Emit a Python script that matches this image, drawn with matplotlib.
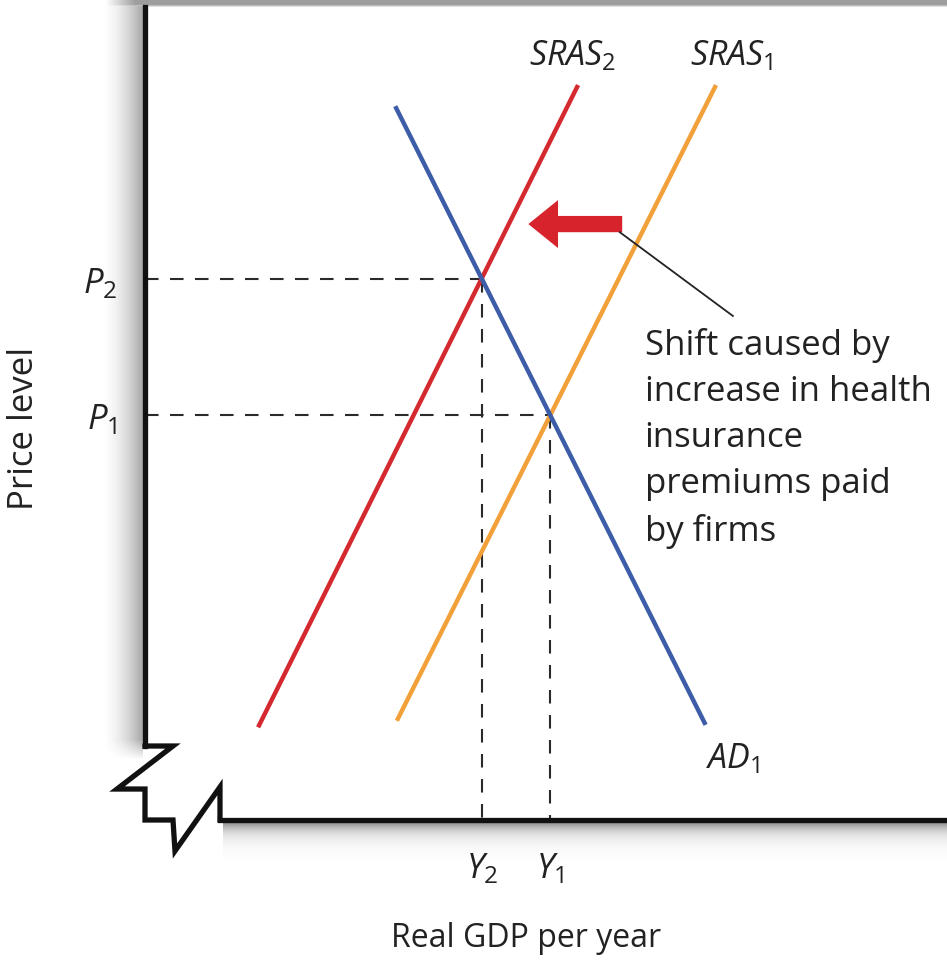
import numpy as np
import matplotlib.pyplot as plt
from matplotlib.patches import FancyArrow

plt.rcParams['font.family'] = ['Open Sans', 'DejaVu Sans']
plt.rcParams['mathtext.fontset'] = 'custom'
plt.rcParams['mathtext.it'] = 'Open Sans:italic'
plt.rcParams['mathtext.rm'] = 'Open Sans'

# curve end points: (real GDP, price level), arbitrary units 0-100
sras1_x = [31.4, 71.2]
sras1_y = [12.2, 90.4]
sras2_x = [14.1, 54.0]
sras2_y = [11.4, 90.4]
ad1_x = [31.2, 69.9]
ad1_y = [87.8, 11.7]

curve_names = [r'$\mathit{SRAS}_\mathrm{2}$', r'$\mathit{SRAS}_\mathrm{1}$', r'$\mathit{AD}_\mathrm{1}$']
name_x = [47.9, 68.0, 70.0]
name_y = [93.0, 93.0, 6.5]

price_ticks = [r'$\mathit{P}_\mathrm{1}$', r'$\mathit{P}_\mathrm{2}$']
gdp_ticks = [r'$\mathit{Y}_\mathrm{2}$', r'$\mathit{Y}_\mathrm{1}$']

note = "Shift caused by\nincrease in health\ninsurance\npremiums paid\nby firms"

RED = '#d42a2f'
ORANGE = '#f2a13a'
BLUE = '#3d5da8'
ARROW_RED = '#d7232b'


def crossing(xa, ya, xb, yb):
    # intersection of two straight lines given by two points each
    ma = (ya[1] - ya[0]) / (xa[1] - xa[0])
    mb = (yb[1] - yb[0]) / (xb[1] - xb[0])
    x = (yb[0] - ya[0] + ma * xa[0] - mb * xb[0]) / (ma - mb)
    return x, ya[0] + ma * (x - xa[0])


W, H = 947, 962
fig = plt.figure(figsize=(W / 100, H / 100), dpi=100)

# soft shadow around the panel
bg = fig.add_axes([0, 0, 1, 1], zorder=-5)
yy, xx = np.mgrid[0:H, 0:W].astype(float)
shade = np.ones((H, W))
top = 0.62 + 0.38 * np.clip((yy - 5) / 3.0, 0, 1)
top_fade = np.clip((xx - 105) / 30.0, 0, 1)
shade = np.minimum(shade, 1 - (1 - top) * top_fade)
left = 1 - 0.36 * np.clip((xx - 100) / 43.0, 0, 1) ** 1.8
left_fade = np.clip((760 - yy) / 20.0, 0, 1)
left = np.where((xx < 143) & (yy > 6), 1 - (1 - left) * left_fade, 1)
shade = np.minimum(shade, left)
bottom = 1 - 0.42 * np.exp(-np.clip(yy - 824, 0, None) / 9.0)
bottom = np.where((yy > 823) & (xx > 222), bottom, 1)
shade = np.minimum(shade, bottom)
bg.imshow(shade, cmap='gray', vmin=0, vmax=1, extent=(0, W, H, 0), aspect='auto')
bg.axis('off')

ax = fig.add_axes([145 / W, 1 - 821 / H, 802 / W, 813 / H])
ax.patch.set_facecolor('white')
ax.set_xlim(0, 100)
ax.set_ylim(0, 100)

ax.plot(sras2_x, sras2_y, color=RED, lw=3.2, solid_capstyle='butt', zorder=3)
ax.plot(sras1_x, sras1_y, color=ORANGE, lw=3.2, solid_capstyle='butt', zorder=3)
ax.plot(ad1_x, ad1_y, color=BLUE, lw=3.2, solid_capstyle='butt', zorder=4)

for txt, tx, ty in zip(curve_names, name_x, name_y):
    ax.text(tx, ty, txt, fontsize=24.5, color='#222222', ha='left', va='baseline')

# equilibrium points and guide lines
y2, p2 = crossing(sras2_x, sras2_y, ad1_x, ad1_y)
y1, p1 = crossing(sras1_x, sras1_y, ad1_x, ad1_y)
for qx, py in [(y2, p2), (y1, p1)]:
    ax.plot([0, qx], [py, py], color='#2a2a2a', lw=1.5, dashes=(6.5, 5.5), zorder=2)
    ax.plot([qx, qx], [py, 0], color='#2a2a2a', lw=1.5, dashes=(6.5, 5.5), zorder=2)

ax.set_yticks([p1, p2])
ax.set_yticklabels(price_ticks)
ax.set_xticks([y2, y1])
ax.set_xticklabels(gdp_ticks)
ax.tick_params(axis='both', length=0, labelsize=25, labelcolor='#222222')
ax.tick_params(axis='y', pad=20)
ax.tick_params(axis='x', pad=22)

# shift arrow and its note
ax.add_patch(FancyArrow(59.5, 73.3, -11.7, 0, width=2.0, head_width=5.9,
                        head_length=3.7, length_includes_head=True,
                        color=ARROW_RED, lw=0, zorder=5))
ax.plot([59.2, 73.3], [72.3, 62.0], color='#222222', lw=1.3, zorder=5)
ax.text(62.3, 60.6, note, fontsize=25, color='#222222', ha='left', va='top',
        linespacing=1.46)

# axes with a break at the origin
for side in ['top', 'right']:
    ax.spines[side].set_visible(False)
ax.spines['left'].set_linewidth(3.8)
ax.spines['bottom'].set_linewidth(3.8)
ax.spines['left'].set_color('#111111')
ax.spines['bottom'].set_color('#111111')
ax.spines['left'].set_bounds(9.1, 100)
ax.spines['bottom'].set_bounds(9.35, 100)
zig_x = [0, 0.0349, -0.0349, 0, 0, 0.0349, 0.0374, 0.0935, 0.0935]
zig_y = [0.091, 0.091, 0.0381, 0.0381, 0, 0, -0.0381, 0.0406, 0]
ax.plot(zig_x, zig_y, color='#111111', lw=3.8, transform=ax.transAxes,
        clip_on=False, solid_joinstyle='miter', zorder=6)

fig.text(526 / W, 1 - 947 / H, 'Real GDP per year', fontsize=23, color='#222222',
         ha='center', va='baseline')
fig.text(24 / W, 1 - 428 / H, 'Price level', fontsize=25, color='#222222',
         ha='center', va='center', rotation=90)

fig.savefig('out.png', dpi=100)
